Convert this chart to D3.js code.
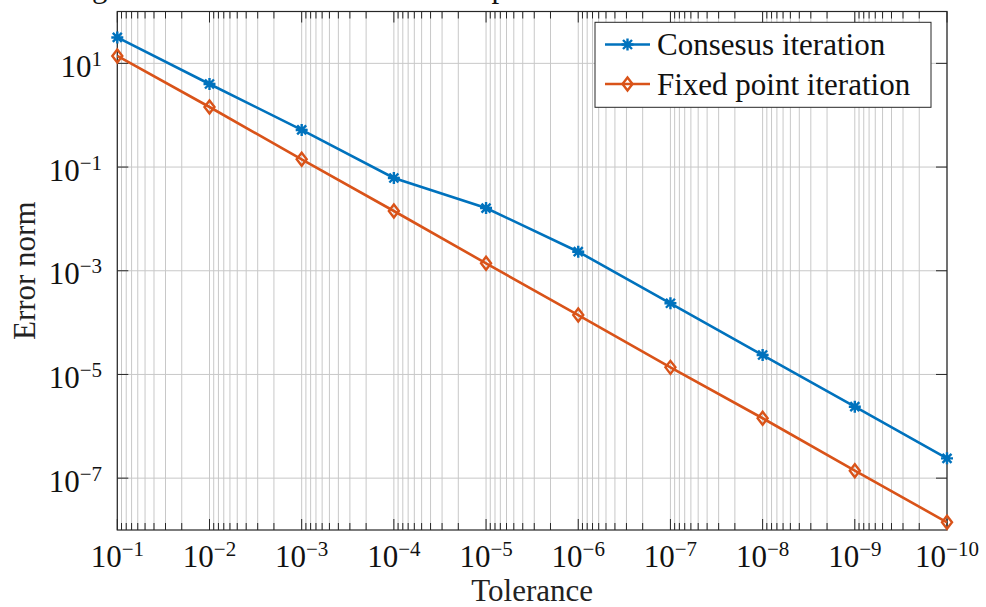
<!DOCTYPE html>
<meta charset="utf-8">
<style>
body { margin: 0; background: #fff; }
svg { display: block; font-family: "Liberation Serif", "Times New Roman", serif; }
.grid line { stroke: #c8c8c8; stroke-width: 1; }
.tick-mark { stroke: #262626; stroke-width: 1; }
</style>
<svg width="986" height="607"></svg>
<script src="https://d3js.org/d3.v7.min.js"></script>
<script>

var tolerance = [1e-1, 1e-2, 1e-3, 1e-4, 1e-5, 1e-6, 1e-7, 1e-8, 1e-9, 1e-10];
var consensusErr = [31.6, 4.0, 0.52, 0.0615, 0.0162, 2.33e-3, 2.36e-4, 2.37e-5, 2.39e-6, 2.41e-7];
var fixedPointErr = [13.9, 1.44, 0.141, 0.0142, 1.39e-3, 1.40e-4, 1.37e-5, 1.43e-6, 1.39e-7, 1.41e-8];
var xTickExps = [-1, -2, -3, -4, -5, -6, -7, -8, -9, -10];
var yTickExps = [1, -1, -3, -5, -7];
var seriesNames = ["Consesus iteration", "Fixed point iteration"];
var titleText = "Convergence of the error norm with respect to the tolerance";

var blue = "#0072bd", orange = "#d95319";

var svg = d3.select("svg");
var pLeft = 117.3, pRight = 947, pTop = 11.5, pBottom = 530;

var x = d3.scaleLog().domain([1e-1, 1e-10]).range([pLeft, pRight]);
var y = d3.scaleLog().domain([1e-8, 1e2]).range([pBottom, pTop]);

// minor + major x values for the grid
var xGridVals = [];
for (var e = -10; e <= -1; e++) {
  for (var m = 1; m <= 9; m++) {
    var v = m * Math.pow(10, e);
    if (v <= 1e-1 + 1e-12) xGridVals.push({v: v, major: m === 1});
  }
}

// title, mostly cut off above the picture
var title = svg.append("text").attr("y", -3).attr("font-size", 31).attr("fill", "#111").text(titleText);
var gOff = title.node().getSubStringLength(0, titleText.indexOf("g"));
title.attr("x", 92 - gOff);

var grid = svg.append("g").attr("class", "grid");
grid.selectAll("line.vx").data(xGridVals).enter().append("line")
    .attr("x1", function(d) { return x(d.v); }).attr("x2", function(d) { return x(d.v); })
    .attr("y1", pTop).attr("y2", pBottom);
grid.selectAll("line.hy").data(yTickExps).enter().append("line")
    .attr("x1", pLeft).attr("x2", pRight)
    .attr("y1", function(d) { return y(Math.pow(10, d)); }).attr("y2", function(d) { return y(Math.pow(10, d)); });

// tick marks (inside)
var ticks = svg.append("g");
xGridVals.forEach(function(d) {
  var len = d.major ? 11 : 7;
  ticks.append("line").attr("class", "tick-mark")
    .attr("x1", x(d.v)).attr("x2", x(d.v)).attr("y1", pBottom).attr("y2", pBottom - len);
  ticks.append("line").attr("class", "tick-mark")
    .attr("x1", x(d.v)).attr("x2", x(d.v)).attr("y1", pTop).attr("y2", pTop + len);
});
yTickExps.forEach(function(d) {
  var yy = y(Math.pow(10, d));
  ticks.append("line").attr("class", "tick-mark").attr("x1", pLeft).attr("x2", pLeft + 11).attr("y1", yy).attr("y2", yy);
  ticks.append("line").attr("class", "tick-mark").attr("x1", pRight).attr("x2", pRight - 11).attr("y1", yy).attr("y2", yy);
});

// box
svg.append("rect").attr("x", pLeft).attr("y", pTop).attr("width", pRight - pLeft).attr("height", pBottom - pTop)
    .attr("fill", "none").attr("stroke", "#262626").attr("stroke-width", 1.2);

function powLabel(sel, exp) {
  sel.append("tspan").text("10");
  sel.append("tspan").attr("font-size", 21).attr("dy", -11).text(exp < 0 ? "\u2212" + (-exp) : exp);
}

xTickExps.forEach(function(d) {
  var t = svg.append("text").attr("x", x(Math.pow(10, d))).attr("y", 567)
      .attr("text-anchor", "middle").attr("font-size", 31).attr("fill", "#111");
  powLabel(t, d);
});
yTickExps.forEach(function(d) {
  var t = svg.append("text").attr("x", 102).attr("y", y(Math.pow(10, d)) + 13.5)
      .attr("text-anchor", "end").attr("font-size", 31).attr("fill", "#111");
  powLabel(t, d);
});

svg.append("text").attr("x", (pLeft + pRight) / 2).attr("y", 601).attr("text-anchor", "middle")
    .attr("font-size", 31).attr("fill", "#222").text("Tolerance");
svg.append("text").attr("transform", "translate(35," + ((pTop + pBottom) / 2) + ") rotate(-90)")
    .attr("text-anchor", "middle").attr("font-size", 31).attr("fill", "#222").text("Error norm");

// series
var line = d3.line().x(function(d) { return x(d[0]); }).y(function(d) { return y(d[1]); });
var consensusPts = tolerance.map(function(t, i) { return [t, consensusErr[i]]; });
var fixedPts = tolerance.map(function(t, i) { return [t, fixedPointErr[i]]; });

function asterisk(g, cx, cy, col) {
  var r = 6, rd = 4.5;
  g.append("path").attr("d",
      "M" + (cx - r) + "," + cy + "H" + (cx + r) +
      "M" + cx + "," + (cy - r) + "V" + (cy + r) +
      "M" + (cx - rd) + "," + (cy - rd) + "L" + (cx + rd) + "," + (cy + rd) +
      "M" + (cx - rd) + "," + (cy + rd) + "L" + (cx + rd) + "," + (cy - rd))
    .attr("stroke", col).attr("stroke-width", 2.4).attr("fill", "none");
}
function diamond(g, cx, cy, col) {
  var w = 5, h = 6.5;
  g.append("path").attr("d",
      "M" + cx + "," + (cy - h) + "L" + (cx + w) + "," + cy + "L" + cx + "," + (cy + h) + "L" + (cx - w) + "," + cy + "Z")
    .attr("stroke", col).attr("stroke-width", 2.4).attr("fill", "none");
}

var plot = svg.append("g");
plot.append("path").datum(consensusPts).attr("d", line).attr("fill", "none").attr("stroke", blue).attr("stroke-width", 2.6);
plot.append("path").datum(fixedPts).attr("d", line).attr("fill", "none").attr("stroke", orange).attr("stroke-width", 2.6);
consensusPts.forEach(function(p) { asterisk(plot, x(p[0]), y(p[1]), blue); });
fixedPts.forEach(function(p) { diamond(plot, x(p[0]), y(p[1]), orange); });

// legend
var lg = svg.append("g");
lg.append("rect").attr("x", 595).attr("y", 22.3).attr("width", 336).attr("height", 85)
    .attr("fill", "#fff").attr("stroke", "#262626").attr("stroke-width", 1);
var rows = [{name: seriesNames[0], col: blue, mk: asterisk, y: 44.5},
            {name: seriesNames[1], col: orange, mk: diamond, y: 84}];
rows.forEach(function(r) {
  lg.append("line").attr("x1", 605).attr("x2", 650).attr("y1", r.y).attr("y2", r.y)
      .attr("stroke", r.col).attr("stroke-width", 2.6);
  r.mk(lg, 627.5, r.y, r.col);
  lg.append("text").attr("x", 657).attr("y", r.y + 10.5).attr("font-size", 31).attr("fill", "#111").text(r.name);
});

</script>
